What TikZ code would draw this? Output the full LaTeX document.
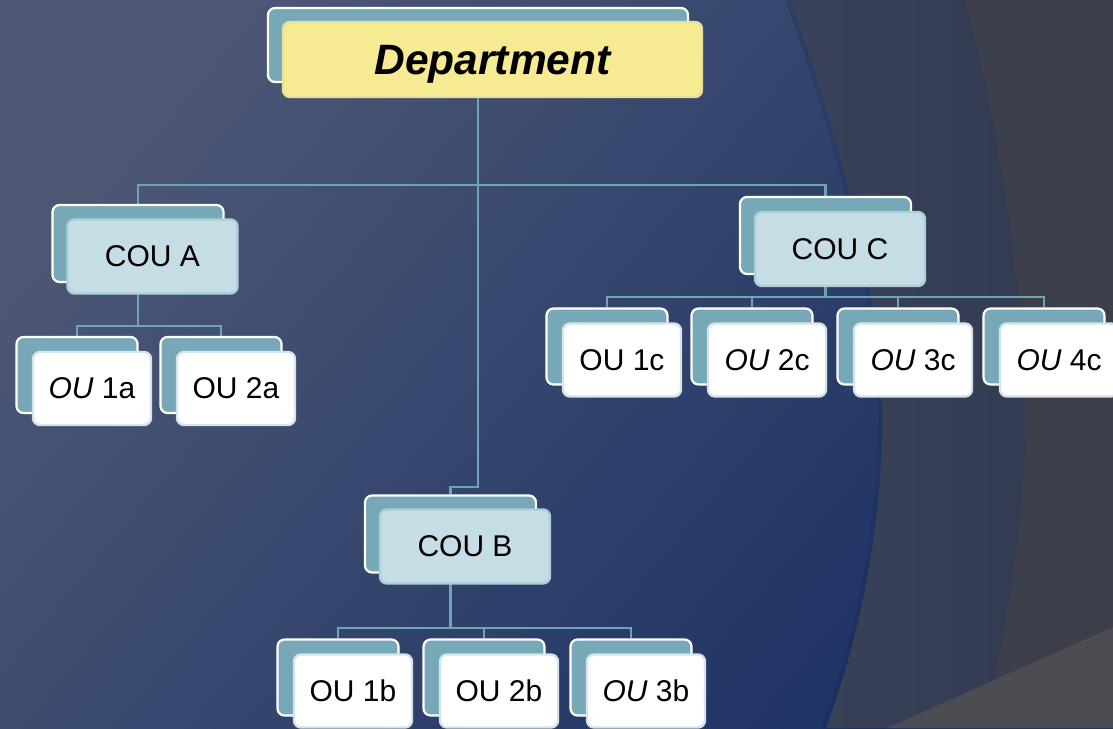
\documentclass[tikz,border=0pt]{standalone}
\usepackage{fontspec}
\setmainfont{Liberation Sans}
\pgfdeclarelayer{bglayer}
\pgfdeclarelayer{edgelayer}
\pgfsetlayers{bglayer,edgelayer,main}
\definecolor{bgTL}{HTML}{4C5774}
\definecolor{bgBR}{HTML}{1C3265}
\definecolor{gapL}{HTML}{394259}
\definecolor{gapR}{HTML}{30394F}
\definecolor{rightc}{HTML}{3C3F4A}
\definecolor{wedgec}{HTML}{4C4D52}
\definecolor{arcshadow}{HTML}{172B5C}
\definecolor{backc}{HTML}{76A8B8}
\definecolor{coufill}{HTML}{C6DDE5}
\definecolor{coudraw}{HTML}{ADCFD9}
\definecolor{oudraw}{HTML}{D5E4E9}
\definecolor{depfill}{HTML}{F6EA93}
\definecolor{depdraw}{HTML}{E9DF98}
\definecolor{connc}{HTML}{6FA5B2}
\begin{document}
\begin{tikzpicture}[x=1pt,y=-1pt,
  boxbase/.style={rounded corners=7pt, inner sep=0pt, align=center,
    text depth=0pt, font=\fontsize{30}{34}\selectfont},
  backbox/.style={boxbase, draw=white, line width=2.2pt, fill=backc},
  depback/.style={backbox, minimum width=420pt, minimum height=74pt},
  depfront/.style={boxbase, draw=depdraw, line width=2.4pt, fill=depfill,
    minimum width=419pt, minimum height=75pt,
    font=\fontsize{42.5}{46}\selectfont\bfseries\itshape},
  couback/.style={backbox, minimum width=171pt, minimum height=77pt},
  coufront/.style={boxbase, draw=coudraw, line width=2.4pt, fill=coufill,
    minimum width=170pt, minimum height=74pt},
  ouback/.style={backbox, minimum width=121pt, minimum height=76pt},
  oufront/.style={boxbase, draw=oudraw, line width=2.4pt, fill=white,
    minimum width=118pt, minimum height=73pt},
  conn/.style={draw=connc, line width=2.2pt}
]
\useasboundingbox (0,0) rectangle (1113,728);

% ---------- background ----------
\begin{pgfonlayer}{bglayer}
  \shade[top color=bgTL, bottom color=bgBR, shading angle=50]
    (0,0) rectangle (1113,728);
  \draw[arcshadow, line width=8pt, opacity=0.3]
    (790,0) .. controls (840,140) and (882,300) .. (882,420)
    .. controls (882,540) and (855,650) .. (826,728);
  \shade[left color=gapL, right color=gapR]
    (790,0) .. controls (840,140) and (882,300) .. (882,420)
    .. controls (882,540) and (855,650) .. (826,728)
    -- (1113,728) -- (1113,0) -- cycle;
  \fill[rightc]
    (965,0) .. controls (1000,130) and (1025,300) .. (1025,420)
    .. controls (1025,540) and (1000,650) .. (985,728)
    -- (1113,728) -- (1113,0) -- cycle;
  \fill[wedgec] (887,728) -- (1113,627) -- (1113,728) -- cycle;
\end{pgfonlayer}

% ---------- nodes ----------
\node[depback] (depB) at (478,45) {};
\node[depfront] (dep) at (492.5,59.5) {Department};

\node[couback] (couAB) at (138,243.5) {};
\node[coufront] (couA) at (152.5,256.5) {COU A};
\node[couback] (couCB) at (825.5,235.5) {};
\node[coufront] (couC) at (840,249) {COU C};
\node[couback] (couBB) at (450.5,534) {};
\node[coufront] (couB) at (465,546.5) {COU B};

\node[ouback] (ou1aB) at (77,375) {};
\node[oufront] (ou1a) at (92,388.5) {\itshape OU\upshape{} 1a};
\node[ouback] (ou2aB) at (221,375) {};
\node[oufront] (ou2a) at (236,388.5) {OU 2a};

\node[ouback] (ou1cB) at (607,346.5) {};
\node[oufront] (ou1c) at (622,360) {OU 1c};
\node[ouback] (ou2cB) at (752,346.5) {};
\node[oufront] (ou2c) at (767,360) {\itshape OU\upshape{} 2c};
\node[ouback] (ou3cB) at (898,346.5) {};
\node[oufront] (ou3c) at (913,360) {\itshape OU\upshape{} 3c};
\node[ouback] (ou4cB) at (1044,346.5) {};
\node[oufront] (ou4c) at (1059,360) {\itshape OU\upshape{} 4c};

\node[ouback] (ou1bB) at (338,677.5) {};
\node[oufront] (ou1b) at (353,691) {OU 1b};
\node[ouback] (ou2bB) at (484,677.5) {};
\node[oufront] (ou2b) at (499,691) {OU 2b};
\node[ouback] (ou3bB) at (631,677.5) {};
\node[oufront] (ou3b) at (646,691) {\itshape OU\upshape{} 3b};

% ---------- connectors ----------
\coordinate (j0) at (478,185);
\coordinate (j1) at (478,487);
\coordinate (ja) at (138,326);
\coordinate (jc) at (825.5,297);
\coordinate (jb) at (450.5,628);
\begin{pgfonlayer}{edgelayer}
  \draw[conn] (depB.south) -- (j0) -| (couAB.north);
  \draw[conn] (j0) -| (couCB.north);
  \draw[conn] (j0) -- (j1) -| (couBB.north);
  \draw[conn] (couAB.south) -- (ja) -| (ou1aB.north);
  \draw[conn] (ja) -| (ou2aB.north);
  \draw[conn] (couCB.south) -- (jc) -| (ou1cB.north);
  \draw[conn] (jc) -| (ou2cB.north);
  \draw[conn] (jc) -| (ou3cB.north);
  \draw[conn] (jc) -| (ou4cB.north);
  \draw[conn] (couBB.south) -- (jb) -| (ou1bB.north);
  \draw[conn] (jb) -| (ou2bB.north);
  \draw[conn] (jb) -| (ou3bB.north);
\end{pgfonlayer}
\end{tikzpicture}
\end{document}
